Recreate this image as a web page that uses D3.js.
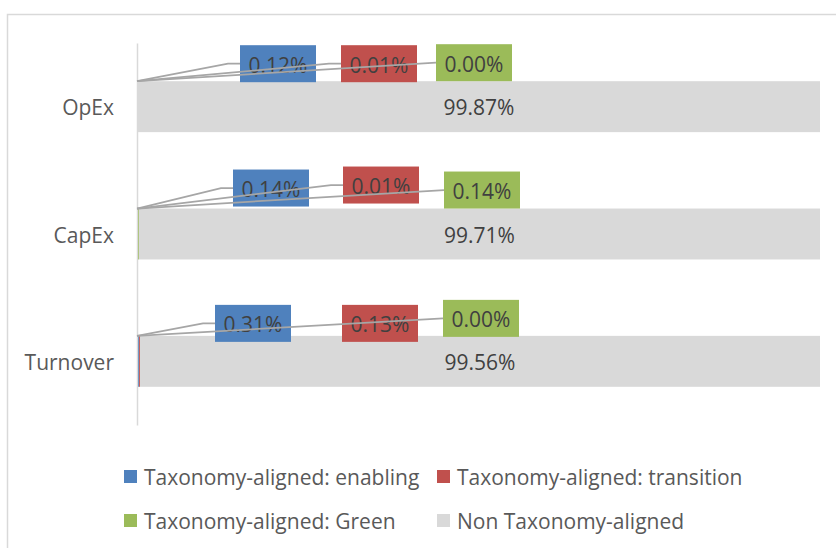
<!DOCTYPE html>
<html>
<head>
<meta charset="utf-8">
<script src="https://cdn.jsdelivr.net/npm/d3@7"></script>
<style>
  body { margin: 0; background: #ffffff; }
  svg text { font-family: "Open Sans", sans-serif; }
</style>
</head>
<body>
<div id="chart"></div>
<script>
// Data.
var categories = ["OpEx", "CapEx", "Turnover"];
var seriesNames = ["Taxonomy-aligned: enabling", "Taxonomy-aligned: transition", "Taxonomy-aligned: Green", "Non Taxonomy-aligned"];
var enabling = [0.12, 0.14, 0.31];
var transition = [0.01, 0.01, 0.13];
var green = [0.00, 0.14, 0.00];
var nonAligned = [99.87, 99.71, 99.56];

// Colors for each series.
var seriesColors = ["#4f81bd", "#c0504d", "#9bbb59", "#d9d9d9"];

// Callout placement (pixels, relative to axis x and bar top) for the small series.
var calloutOffsets = [
  [[103, -36], [204, -36], [299, -37]],
  [[96, -39], [206, -42], [307, -37]],
  [[78, -31], [205, -31], [306, -36]]
];
var calloutLeader = [[true, true, true], [true, true, true], [true, false, true]];
var leaderElbow = [12, 12, 0];

function createChart(divID) {
  var width = 836;
  var height = 548;
  var left = 137;
  var right = 820;
  var top = 43;
  var bottom = 425;
  var fontSize = 21;
  var textDy = "0.42em";

  // 1. Build the stacked data.
  var allSeries = [enabling, transition, green, nonAligned];
  var rows = categories.map(function (c, i) {
    var row = {name: c};
    allSeries.forEach(function (s, k) { row["s" + k] = s[i]; });
    return row;
  });
  var stack = d3.stack().keys(["s0", "s1", "s2", "s3"]);
  var stacked = stack(rows);

  // 2. Scales.
  var xScale = d3.scaleLinear().domain([0, 100]).range([left, right]);
  var yScale = d3.scaleBand().domain(categories).range([top, bottom])
    .paddingInner(0.6).paddingOuter(0.3);

  var svg = d3.select("#" + divID).append("svg")
    .attr("width", width)
    .attr("height", height);

  // 3. Chart border (runs off the right and bottom of the picture).
  svg.append("rect")
    .attr("x", 7.5).attr("y", 14.5)
    .attr("width", 1000).attr("height", 700)
    .attr("fill", "none")
    .attr("stroke", "#d9d9d9")
    .attr("stroke-width", 1.5);

  // 4. Bars.
  svg.selectAll("g.series").data(stacked)
    .enter().append("g")
    .attr("class", "series")
    .attr("fill", function (d, k) { return seriesColors[k]; })
    .selectAll("rect").data(function (d) { return d; })
    .enter().append("rect")
    .attr("x", function (d) { return xScale(d[0]); })
    .attr("y", function (d) { return yScale(d.data.name); })
    .attr("width", function (d) { return xScale(d[1]) - xScale(d[0]); })
    .attr("height", yScale.bandwidth());

  // 5. Category axis.
  var yAxis = d3.axisLeft(yScale).tickSize(0).tickPadding(23);
  var axisG = svg.append("g")
    .attr("transform", "translate(" + left + ",0)")
    .call(yAxis);
  axisG.select(".domain").attr("stroke", "#d9d9d9").attr("stroke-width", 1.5);
  axisG.selectAll("text")
    .attr("dy", textDy)
    .attr("font-size", fontSize)
    .attr("fill", "#595959");

  // 6. Labels for the big series, centred in the bar.
  svg.selectAll("text.bigLabel").data(stacked[3])
    .enter().append("text")
    .attr("class", "bigLabel")
    .attr("x", function (d) { return (xScale(d[0]) + xScale(d[1])) / 2; })
    .attr("y", function (d) { return yScale(d.data.name) + yScale.bandwidth() / 2; })
    .attr("dy", textDy)
    .attr("text-anchor", "middle")
    .attr("font-size", fontSize)
    .attr("fill", "#404040")
    .text(function (d) { return d.data.s3.toFixed(2) + "%"; });

  // 7. Callout labels for the small series.
  var callouts = [];
  categories.forEach(function (c, i) {
    for (var k = 0; k < 3; k++) {
      callouts.push({cat: c, i: i, k: k, value: allSeries[k][i]});
    }
  });
  var boxW = 76;
  var boxH = 37;
  function boxX(d) { return xScale(0) + calloutOffsets[d.i][d.k][0]; }
  function boxY(d) { return yScale(d.cat) + calloutOffsets[d.i][d.k][1]; }

  svg.selectAll("rect.callout").data(callouts)
    .enter().append("rect")
    .attr("class", "callout")
    .attr("x", boxX)
    .attr("y", boxY)
    .attr("width", boxW)
    .attr("height", boxH)
    .attr("fill", function (d) { return seriesColors[d.k]; });

  svg.selectAll("text.callout").data(callouts)
    .enter().append("text")
    .attr("class", "callout")
    .attr("x", function (d) { return boxX(d) + boxW / 2; })
    .attr("y", function (d) { return boxY(d) + boxH / 2; })
    .attr("dy", textDy)
    .attr("text-anchor", "middle")
    .attr("font-size", fontSize)
    .attr("fill", "#404040")
    .text(function (d) { return d.value.toFixed(2) + "%"; });

  // 7.1 Leader lines from the bar start to each callout.
  svg.selectAll("path.leader").data(callouts.filter(function (d) { return calloutLeader[d.i][d.k]; }))
    .enter().append("path")
    .attr("class", "leader")
    .attr("fill", "none")
    .attr("stroke", "#a6a6a6")
    .attr("stroke-width", 1.75)
    .attr("d", function (d) {
      var x0 = xScale(0);
      var y0 = yScale(d.cat);
      var mx = boxX(d);
      var my = boxY(d) + boxH / 2;
      return "M" + x0 + "," + y0 + "L" + (mx - leaderElbow[d.k]) + "," + my + "L" + mx + "," + my;
    });

  // 8. Legend.
  var legendCols = [124, 437];
  var legendRows = [477, 521];
  var legend = svg.selectAll("g.legend").data(seriesNames)
    .enter().append("g")
    .attr("class", "legend")
    .attr("transform", function (d, k) {
      return "translate(" + legendCols[k % 2] + "," + legendRows[Math.floor(k / 2)] + ")";
    });
  legend.append("rect")
    .attr("x", 0).attr("y", -7)
    .attr("width", 13).attr("height", 13)
    .attr("fill", function (d, k) { return seriesColors[k]; });
  legend.append("text")
    .attr("x", 20)
    .attr("y", 0)
    .attr("dy", "0.38em")
    .attr("font-size", fontSize)
    .attr("fill", "#595959")
    .text(function (d) { return d; });
}

createChart("chart");
</script>
</body>
</html>
